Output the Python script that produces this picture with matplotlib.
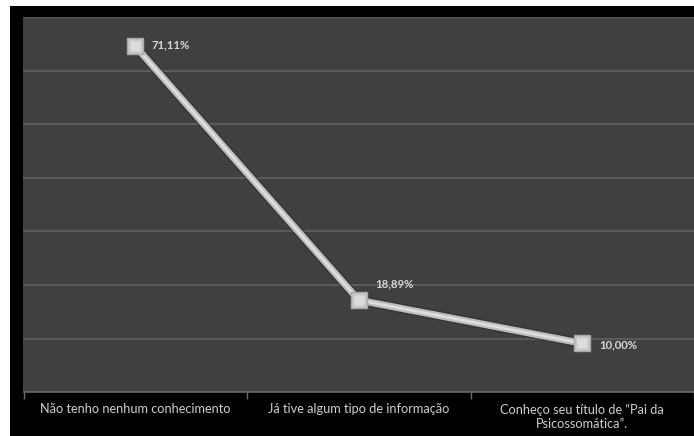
import matplotlib
matplotlib.use("Agg")
import matplotlib.pyplot as plt
from matplotlib.patches import Rectangle

categories = [
    "Não tenho nenhum conhecimento",
    "Já tive algum tipo de informação",
    "Conheço seu título de “Pai da\nPsicossomática”.",
]
values = [71.11, 18.89, 10.00]

plt.rcParams["font.family"] = ["Lato", "DejaVu Sans"]

W, H = 694, 436
fig = plt.figure(figsize=(W / 100, H / 100), dpi=100, facecolor="white")

# black frame behind the chart
fig.patches.append(Rectangle((10 / W, 0), 1 - 10 / W, 1 - 6 / H,
                             transform=fig.transFigure, facecolor="black",
                             edgecolor="none", zorder=-10))

left, right = 23.5 / W, 1.0
bottom, top = (H - 392) / H, (H - 17.5) / H
ax = fig.add_axes([left, bottom, right - left, top - bottom])
ax.set_facecolor("#404040")

x = list(range(len(values)))
ax.set_xlim(-0.5, len(values) - 0.5)
ax.set_ylim(0, 77)

# horizontal gridlines
ax.set_yticks([11 * k for k in range(1, 8)])
ax.yaxis.grid(True, color="#5c5c5c", linewidth=1.4)
ax.set_axisbelow(True)
ax.tick_params(axis="y", left=False, labelleft=False)

# category boundaries as tick marks, labels centred on categories
ax.set_xticks([i - 0.5 for i in range(len(values) + 1)])
ax.set_xticklabels([])
ax.set_xticks(x, minor=True)
ax.set_xticklabels(categories, minor=True, color="#cfcfcf", fontsize=9.2,
                   linespacing=1.2)
ax.tick_params(axis="x", which="major", length=5, width=1, color="#6a6a6a",
               direction="out")
ax.tick_params(axis="x", which="minor", length=0, pad=8)

for s in ["top", "right", "left"]:
    ax.spines[s].set_visible(False)
ax.spines["bottom"].set_color("#6a6a6a")
ax.spines["bottom"].set_linewidth(1.2)

# the series line with a soft shadow
ax.plot(x, values, color="#2a2a2a", linewidth=7, alpha=0.5,
        solid_capstyle="round", zorder=3)
ax.plot(x, values, color="#bdbdbd", linewidth=5, solid_capstyle="round",
        zorder=4)
ax.plot(x, values, color="#dedede", linewidth=2, zorder=5)
ax.plot(x, values, linestyle="none", marker="s", markersize=11,
        markerfacecolor="#c8c8c8", markeredgecolor="#a8a8a8",
        markeredgewidth=1.0, zorder=6)
ax.plot(x, values, linestyle="none", marker="s", markersize=7,
        markerfacecolor="#dcdcdc", markeredgecolor="none", zorder=7)

# value labels
offsets = [(12, 1), (12, 12), (12, -1)]
for xi, v, (dx, dy) in zip(x, values, offsets):
    txt = f"{v:.2f}".replace(".", ",") + "%"
    ax.annotate(txt, (xi, v), xytext=(dx, dy), textcoords="offset points",
                ha="left", va="center", color="#d8d8d8", fontsize=8.2,
                fontweight="bold", zorder=8)

fig.savefig("out.png", dpi=100, facecolor="white")
